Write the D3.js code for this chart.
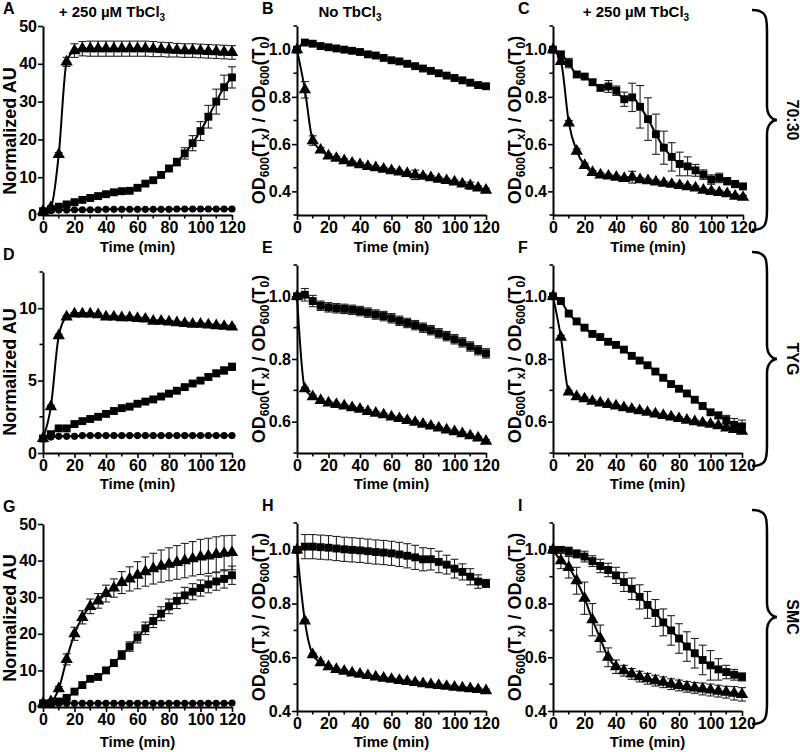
<!DOCTYPE html>
<html>
<head>
<meta charset="utf-8">
<script src="https://cdn.jsdelivr.net/npm/d3@7"></script>
<style>
  body { margin: 0; background: #fff; }
  svg { font-family: "Liberation Sans", Arial, sans-serif; font-weight: bold; }
</style>
</head>
<body>
<svg id="fig" width="800" height="752"></svg>
<script>
// Time points (min)
const TIME = [0,5,10,15,20,25,30,35,40,45,50,55,60,65,70,75,80,85,90,95,100,105,110,115,120];

// --- Row 1: 70:30 ---
const aTri    = [1,2,16,40.5,43.5,44,44,44,44,44,44,44,44,44,43.9,43.8,43.7,43.6,43.5,43.5,43.4,43.3,43.2,43.1,43];
const aTriErr = [0.2,0.3,0.5,1.2,1.8,1.9,2,2,2,2,2,2,2,2,2,1.9,1.9,1.8,1.8,1.8,1.8,1.8,1.8,1.8,1.8];
const aSq     = [1,1.5,2.2,2.8,3.4,4,4.5,5,5.5,6,6.3,6.4,7.2,8.3,9.2,10.6,12.3,14,16.3,19,22.2,26,30,33.8,36.4];
const aSqErr  = [0.1,0.1,0.2,0.2,0.2,0.2,0.3,0.3,0.3,0.3,0.4,0.4,0.4,0.5,0.6,0.7,0.8,1,1.5,2,2.5,3,3.3,3.2,2.8];
const aCirc   = [1,1.2,1.3,1.3,1.4,1.4,1.4,1.4,1.5,1.5,1.5,1.5,1.5,1.5,1.5,1.5,1.5,1.6,1.6,1.6,1.6,1.6,1.6,1.6,1.6];

const bSq     = [1.0,1.03,1.025,1.015,1.01,1.005,1.0,0.995,0.99,0.98,0.975,0.965,0.955,0.95,0.94,0.93,0.92,0.91,0.9,0.89,0.88,0.87,0.86,0.85,0.845];
const bSqErr  = [0,0.005,0.005,0.005,0.005,0.005,0.005,0.005,0.005,0.005,0.005,0.005,0.005,0.005,0.005,0.005,0.005,0.005,0.005,0.005,0.005,0.005,0.005,0.005,0.005];
const bTri    = [1.0,0.83,0.615,0.575,0.55,0.54,0.53,0.52,0.513,0.506,0.5,0.494,0.488,0.482,0.476,0.47,0.464,0.458,0.452,0.446,0.44,0.432,0.424,0.415,0.405];
const bTriErr = [0,0.035,0.02,0.01,0.008,0.008,0.008,0.008,0.008,0.008,0.008,0.008,0.008,0.008,0.008,0.02,0.008,0.008,0.008,0.008,0.008,0.008,0.015,0.008,0.008];

const cSq     = [1.0,0.98,0.943,0.895,0.886,0.862,0.838,0.844,0.826,0.79,0.798,0.758,0.706,0.642,0.585,0.546,0.516,0.506,0.489,0.471,0.45,0.457,0.443,0.431,0.421];
const cSqErr  = [0,0.01,0.02,0.01,0.008,0.01,0.01,0.025,0.02,0.03,0.06,0.09,0.09,0.085,0.07,0.06,0.05,0.04,0.025,0.02,0.02,0.02,0.015,0.015,0.01];
const cTri    = [1.0,0.95,0.69,0.57,0.51,0.48,0.47,0.465,0.46,0.455,0.46,0.45,0.445,0.44,0.435,0.43,0.425,0.42,0.415,0.405,0.4,0.395,0.39,0.38,0.375];
const cTriErr = [0,0.01,0.01,0.01,0.01,0.008,0.008,0.008,0.008,0.008,0.025,0.008,0.008,0.008,0.008,0.008,0.008,0.008,0.008,0.008,0.008,0.008,0.008,0.008,0.008];

// --- Row 2: TYG ---
const dTri    = [1,3.2,8.1,9.4,9.6,9.6,9.6,9.55,9.4,9.4,9.35,9.35,9.3,9.25,9.1,9.1,9.05,9.0,8.95,8.9,8.9,8.85,8.8,8.75,8.7];
const dTriErr = [0.05,0.1,0.1,0.1,0.1,0.1,0.1,0.1,0.1,0.1,0.1,0.1,0.1,0.1,0.1,0.1,0.1,0.1,0.1,0.1,0.1,0.1,0.1,0.1,0.1];
const dSq     = [1.0,1.3,1.7,1.7,2.0,2.2,2.35,2.5,2.7,2.9,3.1,3.2,3.4,3.55,3.7,3.9,4.1,4.3,4.55,4.8,5.0,5.25,5.5,5.7,5.95];
const dSqErr  = [0.05,0.05,0.05,0.05,0.05,0.05,0.05,0.05,0.05,0.05,0.05,0.05,0.05,0.05,0.05,0.08,0.1,0.1,0.12,0.12,0.15,0.2,0.22,0.24,0.25];
const dCirc   = [1.0,1.1,1.15,1.15,1.15,1.2,1.2,1.2,1.2,1.2,1.2,1.2,1.2,1.2,1.2,1.2,1.2,1.2,1.2,1.2,1.2,1.2,1.2,1.2,1.2];

const eSq     = [1.0,1.005,0.985,0.97,0.965,0.962,0.96,0.957,0.953,0.948,0.942,0.937,0.93,0.922,0.915,0.908,0.9,0.892,0.882,0.873,0.863,0.853,0.84,0.828,0.818];
const eSqErr  = [0,0.02,0.018,0.015,0.015,0.015,0.015,0.015,0.015,0.015,0.015,0.015,0.015,0.015,0.015,0.015,0.015,0.015,0.015,0.015,0.015,0.015,0.015,0.015,0.015];
const eTri    = [1.0,0.705,0.68,0.668,0.66,0.655,0.65,0.645,0.64,0.633,0.627,0.622,0.615,0.61,0.604,0.598,0.592,0.586,0.58,0.574,0.568,0.562,0.555,0.548,0.538];
const eTriErr = [0,0.005,0.005,0.005,0.005,0.005,0.005,0.005,0.005,0.005,0.005,0.005,0.005,0.005,0.005,0.005,0.005,0.005,0.005,0.005,0.005,0.005,0.005,0.005,0.005];

const fSq     = [1.0,0.985,0.945,0.92,0.9,0.88,0.87,0.855,0.845,0.83,0.81,0.795,0.78,0.76,0.74,0.72,0.705,0.69,0.67,0.65,0.63,0.62,0.605,0.59,0.585];
const fSqErr  = [0,0.005,0.005,0.005,0.005,0.005,0.005,0.005,0.005,0.005,0.005,0.005,0.005,0.005,0.005,0.005,0.005,0.005,0.005,0.005,0.008,0.01,0.015,0.02,0.02];
const fTri    = [1.0,0.87,0.695,0.68,0.673,0.665,0.66,0.655,0.65,0.645,0.64,0.635,0.63,0.625,0.62,0.615,0.61,0.605,0.6,0.596,0.592,0.587,0.58,0.575,0.57];
const fTriErr = [0,0.005,0.005,0.005,0.005,0.005,0.005,0.005,0.005,0.005,0.005,0.005,0.005,0.005,0.005,0.005,0.005,0.005,0.005,0.005,0.005,0.005,0.005,0.005,0.005];

// --- Row 3: SMC ---
const gTri    = [1,1.5,5,13,20,24.5,27.5,29,31,32.5,34,35,36,37,37.8,38.5,39,39.5,40,40.5,41,41.3,41.7,42,42.2];
const gTriErr = [0.2,0.3,0.6,1.5,1.8,1.8,2,2,2.3,2.5,3,3.3,3.7,4,4.2,4.4,4.5,4.6,4.7,4.7,4.8,4.8,4.8,4.8,4.7];
const gSq     = [1,1,1.5,2.5,4.2,6,7.7,8.2,10,12,14.2,16.5,19,21.5,23.5,25.5,27.5,29,30.5,31.5,32.5,33.5,34.3,35,36];
const gSqErr  = [0.1,0.1,0.2,0.3,0.4,0.5,0.6,0.6,0.7,0.9,1.2,1.3,1.5,1.7,1.8,1.9,2,2.1,2.2,2.2,2.2,2.3,2.4,2.5,2.5];
const gCirc   = [1,1,1,1,1,1,1,1,1,1,1,1,1,1,1,1,1,1,1,1,1,1,1,1,1.1];

const hSq     = [1.0,1.012,1.012,1.01,1.008,1.005,1.002,1.0,0.998,0.995,0.992,0.99,0.987,0.983,0.978,0.972,0.965,0.965,0.955,0.945,0.93,0.918,0.9,0.882,0.875];
const hSqErr  = [0,0.045,0.045,0.045,0.045,0.045,0.045,0.045,0.045,0.045,0.045,0.045,0.045,0.045,0.045,0.045,0.043,0.04,0.04,0.035,0.035,0.03,0.03,0.025,0.015];
const hTri    = [1.0,0.735,0.61,0.58,0.565,0.555,0.548,0.542,0.537,0.532,0.527,0.522,0.518,0.514,0.51,0.506,0.502,0.498,0.495,0.492,0.489,0.486,0.483,0.48,0.476];
const hTriErr = [0,0.005,0.005,0.005,0.005,0.005,0.005,0.005,0.005,0.005,0.005,0.005,0.005,0.005,0.005,0.005,0.005,0.005,0.005,0.005,0.005,0.005,0.005,0.005,0.005];

const iSq     = [1.0,1.0,0.995,0.985,0.975,0.958,0.94,0.925,0.905,0.88,0.855,0.825,0.795,0.765,0.73,0.7,0.67,0.64,0.615,0.59,0.57,0.555,0.545,0.535,0.527];
const iSqErr  = [0,0.01,0.015,0.015,0.02,0.02,0.025,0.025,0.03,0.035,0.04,0.045,0.05,0.05,0.05,0.055,0.055,0.055,0.055,0.055,0.055,0.04,0.025,0.02,0.015];
const iTri    = [1.0,0.96,0.935,0.885,0.82,0.74,0.67,0.6,0.565,0.55,0.538,0.528,0.52,0.513,0.507,0.5,0.495,0.49,0.486,0.482,0.478,0.474,0.47,0.466,0.462];
const iTriErr = [0,0.03,0.04,0.05,0.06,0.06,0.05,0.035,0.025,0.02,0.02,0.02,0.02,0.02,0.02,0.02,0.02,0.02,0.02,0.022,0.022,0.022,0.022,0.025,0.025];

// tick labels
const X_TICKS = [0,20,40,60,80,100,120];
const X_MINOR = [10,30,50,70,90,110];

const svg = d3.select("#fig");

const SYM = {
  sq:   d3.symbol().type(d3.symbolSquare).size(62),
  tri:  d3.symbol().type(d3.symbolTriangle).size(66),
  circ: d3.symbol().type(d3.symbolCircle).size(40)
};

// panel layout
const panels = [
  { letter:"A", x:[43,232],  y:[215,26],  dom:[0,50],    yt:[0,10,20,30,40,50], ym:[], fmt:d3.format("d"), kind:"au", ylab:131, tY:252,
    ser:[["circ",aCirc,null],["sq",aSq,aSqErr],["tri",aTri,aTriErr]] },
  { letter:"B", x:[297,486], y:[215,26],  dom:[0.3,1.1], yt:[0.4,0.6,0.8,1.0], ym:[0.3,0.5,0.7,0.9,1.1], fmt:d3.format(".1f"), kind:"od", ylab:120, tY:252,
    ser:[["sq",bSq,bSqErr],["tri",bTri,bTriErr]] },
  { letter:"C", x:[553,743], y:[215,26],  dom:[0.3,1.1], yt:[0.4,0.6,0.8,1.0], ym:[0.3,0.5,0.7,0.9,1.1], fmt:d3.format(".1f"), kind:"od", ylab:120, tY:252,
    ser:[["sq",cSq,cSqErr],["tri",cTri,cTriErr]] },
  { letter:"D", x:[43,232],  y:[453,272], dom:[0,12.5],  yt:[0,5,10], ym:[2.5,7.5,12.5], fmt:d3.format("d"), kind:"au", ylab:372, tY:489,
    ser:[["circ",dCirc,null],["sq",dSq,dSqErr],["tri",dTri,dTriErr]] },
  { letter:"E", x:[297,486], y:[453,265], dom:[0.5,1.1], yt:[0.6,0.8,1.0], ym:[0.5,0.7,0.9,1.1], fmt:d3.format(".1f"), kind:"od", ylab:359, tY:489,
    ser:[["sq",eSq,eSqErr],["tri",eTri,eTriErr]] },
  { letter:"F", x:[553,742], y:[453,265], dom:[0.5,1.1], yt:[0.6,0.8,1.0], ym:[0.5,0.7,0.9,1.1], fmt:d3.format(".1f"), kind:"od", ylab:359, tY:489,
    ser:[["sq",fSq,fSqErr],["tri",fTri,fTriErr]] },
  { letter:"G", x:[43,232],  y:[707,524], dom:[0,50],    yt:[0,10,20,30,40,50], ym:[], fmt:d3.format("d"), kind:"au", ylab:618, tY:747,
    ser:[["circ",gCirc,null],["sq",gSq,gSqErr],["tri",gTri,gTriErr]] },
  { letter:"H", x:[297,486], y:[711,523], dom:[0.4,1.1], yt:[0.4,0.6,0.8,1.0], ym:[0.5,0.7,0.9,1.1], fmt:d3.format(".1f"), kind:"od", ylab:617, tY:747,
    ser:[["sq",hSq,hSqErr],["tri",hTri,hTriErr]] },
  { letter:"I", x:[553,742], y:[711,523], dom:[0.4,1.1], yt:[0.4,0.6,0.8,1.0], ym:[0.5,0.7,0.9,1.1], fmt:d3.format(".1f"), kind:"od", ylab:617, tY:747,
    ser:[["sq",iSq,iSqErr],["tri",iTri,iTriErr]] }
];

function drawPanel(p) {
  const x = d3.scaleLinear().domain([0,120]).range(p.x);
  const y = d3.scaleLinear().domain(p.dom).range(p.y);
  const g = svg.append("g");

  // x axis
  const xa = g.append("g").attr("transform", `translate(0,${p.y[0]})`);
  xa.call(d3.axisBottom(x).tickValues(X_TICKS).tickSize(5).tickPadding(2).tickSizeOuter(0));
  xa.append("g").selectAll("line").data(X_MINOR).join("line")
    .attr("x1", d => x(d)).attr("x2", d => x(d)).attr("y1", 0).attr("y2", 3.5)
    .attr("stroke", "#000").attr("stroke-width", 1.6);

  // y axis
  const ya = g.append("g").attr("transform", `translate(${p.x[0]},0)`);
  ya.call(d3.axisLeft(y).tickValues(p.yt).tickFormat(p.fmt).tickSize(5).tickPadding(1).tickSizeOuter(0));
  ya.append("g").selectAll("line").data(p.ym).join("line")
    .attr("y1", d => y(d)).attr("y2", d => y(d)).attr("x1", 0).attr("x2", -3.5)
    .attr("stroke", "#000").attr("stroke-width", 1.6);

  [xa, ya].forEach(a => {
    a.selectAll(".domain").attr("stroke", "#000").attr("stroke-width", 2);
    a.selectAll(".tick line").attr("stroke", "#000").attr("stroke-width", 1.6);
    a.selectAll("text").attr("font-size", 16).attr("font-weight", "bold")
      .attr("font-family", '"Liberation Sans", Arial, sans-serif').attr("fill", "#000");
  });

  // x title
  g.append("text").attr("x", (p.x[0] + p.x[1]) / 2).attr("y", p.tY)
    .attr("text-anchor", "middle").attr("font-size", 15).text("Time (min)");

  // y title
  if (p.kind === "au") {
    g.append("text").attr("transform", `translate(16,${p.ylab}) rotate(-90)`)
      .attr("text-anchor", "middle").attr("font-size", 18).text("Normalized AU");
  } else {
    const bx = p.x[0] - 32;
    const t = g.append("text").attr("transform", `translate(${bx},${p.ylab}) rotate(-90)`)
      .attr("text-anchor", "middle").attr("font-size", 18);
    const parts = [["OD",0],["600",1],["(T",0],["x",1],[") / OD",0],["600",1],["(T",0],["0",1],[")",0]];
    let prevSub = 0;
    parts.forEach(([s, sub]) => {
      t.append("tspan").attr("font-size", sub ? 12 : 18)
        .attr("dy", sub === prevSub ? 0 : (sub ? 4 : -4)).text(s);
      prevSub = sub;
    });
  }

  // data
  p.ser.forEach(([sym, vals, errs]) => {
    const pts = TIME.map((t, i) => ({ t, v: vals[i], e: errs ? errs[i] : 0 }));
    g.append("path").datum(pts)
      .attr("fill", "none").attr("stroke", "#000").attr("stroke-width", 2)
      .attr("d", d3.line().x(d => x(d.t)).y(d => y(d.v)).curve(d3.curveMonotoneX));
    if (errs) {
      const eb = g.append("g").attr("stroke", "#222").attr("stroke-width", 1.1);
      pts.filter(d => d.e > 0).forEach(d => {
        const cx = x(d.t), y1 = y(d.v + d.e), y2 = y(d.v - d.e);
        eb.append("line").attr("x1", cx).attr("x2", cx).attr("y1", y1).attr("y2", y2);
        eb.append("line").attr("x1", cx - 4).attr("x2", cx + 4).attr("y1", y1).attr("y2", y1);
        eb.append("line").attr("x1", cx - 4).attr("x2", cx + 4).attr("y1", y2).attr("y2", y2);
      });
    }
    g.append("g").selectAll("path").data(pts).join("path")
      .attr("transform", d => `translate(${x(d.t)},${y(d.v)})`)
      .attr("d", SYM[sym]).attr("fill", "#000");
  });

  // panel letter
  const lx = p.kind === "au" ? 3 : p.x[0] - 35;
  svg.append("text").attr("x", lx).attr("y", p.y[1] - 12)
    .attr("font-size", 16).text(p.letter);
}

panels.forEach(drawPanel);

// column titles
function titleTb(cx, prefix) {
  const t = svg.append("text").attr("x", cx).attr("y", 17).attr("text-anchor", "middle").attr("font-size", 15);
  t.append("tspan").text(prefix + "TbCl");
  t.append("tspan").attr("font-size", 10).attr("dy", 4).text("3");
}
titleTb(112, "+ 250 \u00b5M ");
titleTb(350, "No ");
titleTb(636, "+ 250 \u00b5M ");

// right-hand braces
const GROUPS = ["70:30", "TYG", "SMC"];
const braceSpans = [[10, 230], [252, 466], [510, 724]];
braceSpans.forEach(([t0, t1], i) => {
  const m = (t0 + t1) / 2, xl = 752, xv = 767, xt = 777;
  const d = `M${xl},${t0} C${xv},${t0} ${xv},${t0+8} ${xv},${t0+22} L${xv},${m-14} C${xv},${m-4} ${xt-4},${m} ${xt},${m}`
          + ` C${xt-4},${m} ${xv},${m+4} ${xv},${m+14} L${xv},${t1-22} C${xv},${t1-8} ${xv},${t1} ${xl},${t1}`;
  svg.append("path").attr("d", d).attr("fill", "none").attr("stroke", "#000").attr("stroke-width", 2.5);
  svg.append("text").attr("transform", `translate(787,${m}) rotate(90)`)
    .attr("text-anchor", "middle").attr("font-size", 16).text(GROUPS[i]);
});
</script>
</body>
</html>
